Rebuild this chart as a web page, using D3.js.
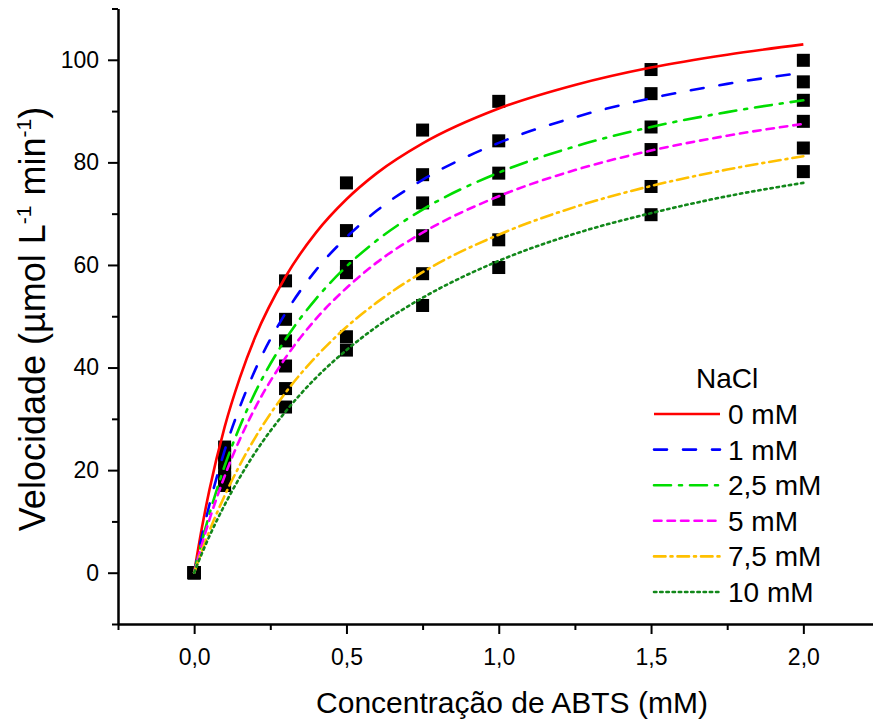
<!DOCTYPE html>
<html>
<head>
<meta charset="utf-8">
<script src="https://cdn.jsdelivr.net/npm/d3@7"></script>
<style>
  body { margin: 0; background: #fff; }
  svg { display: block; font-family: "Liberation Sans", Arial, sans-serif; }
</style>
</head>
<body>
<div id="chart"></div>
<script>
// measured points (ABTS mM -> velocity)
var xPoints = [0, 0.1, 0.3, 0.5, 0.75, 1.0, 1.5, 2.0];
var v0   = [0, 24.5, 56.9, 76.0, 86.3, 91.9, 98.1, 99.9];
var v1   = [0, 23.0, 49.4, 66.7, 77.6, 84.2, 93.4, 95.7];
var v25  = [0, 21.5, 45.2, 59.7, 72.1, 77.9, 86.9, 92.1];
var v5   = [0, 20.0, 40.3, 58.5, 65.7, 72.8, 82.5, 88.0];
var v75  = [0, 18.5, 35.9, 46.0, 58.3, 64.9, 75.3, 82.8];
var v10  = [0, 17.0, 32.3, 43.4, 52.1, 59.5, 69.8, 78.2];

// fitted curves
var xCurve = [0, 0.025, 0.05, 0.1, 0.15, 0.2, 0.3, 0.4, 0.5, 0.6, 0.75, 1.0, 1.25, 1.5, 1.75, 2.0];
var c0  = [0, 8.6, 16.1, 28.4, 38.0, 45.9, 57.7, 66.3, 72.8, 77.9, 83.7, 90.5, 95.1, 98.5, 101.0, 103.0];
var c1  = [0, 7.0, 13.2, 23.8, 32.3, 39.5, 50.6, 59.0, 65.4, 70.6, 76.6, 83.8, 88.8, 92.5, 95.3, 97.5];
var c25 = [0, 6.0, 11.4, 20.8, 28.5, 35.1, 45.5, 53.4, 59.7, 64.8, 70.8, 78.0, 83.1, 86.9, 89.8, 92.1];
var c5  = [0, 5.4, 10.3, 18.8, 26.0, 32.1, 41.9, 49.5, 55.5, 60.5, 66.3, 73.4, 78.5, 82.3, 85.2, 87.5];
var c75 = [0, 4.2, 8.1, 15.0, 21.0, 26.3, 35.1, 42.1, 47.9, 52.7, 58.6, 65.9, 71.3, 75.4, 78.6, 81.2];
var c10 = [0, 3.7, 7.1, 13.2, 18.6, 23.4, 31.4, 38.0, 43.4, 48.0, 53.6, 60.8, 66.1, 70.1, 73.4, 76.0];

var seriesNames = ['0 mM', '1 mM', '2,5 mM', '5 mM', '7,5 mM', '10 mM'];
var pointSets = [v0, v1, v25, v5, v75, v10];
var curveSets = [c0, c1, c25, c5, c75, c10];
var colors = ['#ff0000', '#0000ff', '#00dd00', '#ff00ff', '#ffc000', '#12881a'];
var dashes = [null, '13,16', '17,8,3,8', '7.5,6', '11.5,5,2,5', '2.4,3.8'];
var caps = ['butt', 'round', 'round', 'round', 'round', 'round'];

var xMajor = [0, 0.5, 1.0, 1.5, 2.0];
var xMinor = [-0.25, 0.25, 0.75, 1.25, 1.75];
var yMajor = [0, 20, 40, 60, 80, 100];
var yMinor = [-10, 10, 30, 50, 70, 90, 110];

var width = 873, height = 723;

var svg = d3.select('#chart').append('svg')
    .attr('width', width)
    .attr('height', height);

var x = d3.scaleLinear().domain([-0.25, 2.25]).range([118, 879.5]);
var y = d3.scaleLinear().domain([-10, 110]).range([624, 8.5]);

var comma = d3.formatLocale({ decimal: ',', thousands: '.', grouping: [3], currency: ['', ''] });
var fmtX = comma.format('.1f');

// squares first, lines drawn over them
var pts = svg.append('g').attr('class', 'points');
pointSets.forEach(function (vals) {
    pts.selectAll(null)
        .data(vals)
        .enter().append('rect')
        .attr('x', function (d, i) { return x(xPoints[i]) - 6.5; })
        .attr('y', function (d) { return y(d) - 6.5; })
        .attr('width', 13)
        .attr('height', 13)
        .attr('fill', '#000');
});

var line = d3.line()
    .x(function (d, i) { return x(xCurve[i]); })
    .y(function (d) { return y(d); })
    .curve(d3.curveMonotoneX);

var lines = svg.append('g').attr('class', 'fits');
curveSets.forEach(function (vals, k) {
    lines.append('path')
        .datum(vals)
        .attr('d', line)
        .attr('fill', 'none')
        .attr('stroke', colors[k])
        .attr('stroke-width', 2.6)
        .attr('stroke-linecap', caps[k])
        .attr('stroke-dasharray', dashes[k]);
});

// axes
var xAxis = svg.append('g').attr('transform', 'translate(0,624)');
xAxis.call(d3.axisBottom(x).tickValues(xMajor).tickSize(10).tickSizeOuter(0).tickFormat(fmtX));
var xAxisMinor = svg.append('g').attr('transform', 'translate(0,624)');
xAxisMinor.call(d3.axisBottom(x).tickValues(xMinor).tickSize(6).tickSizeOuter(0).tickFormat(''));

var yAxis = svg.append('g').attr('transform', 'translate(118,0)');
yAxis.call(d3.axisLeft(y).tickValues(yMajor).tickSize(10).tickSizeOuter(0));
var yAxisMinor = svg.append('g').attr('transform', 'translate(118,0)');
yAxisMinor.call(d3.axisLeft(y).tickValues(yMinor).tickSize(6).tickSizeOuter(0).tickFormat(''));

svg.selectAll('.domain, .tick line')
    .attr('stroke', '#000')
    .attr('stroke-width', 2);

xAxis.selectAll('.tick text')
    .attr('font-size', 23)
    .attr('fill', '#000')
    .attr('dy', '0')
    .attr('y', 41);

yAxis.selectAll('.tick text')
    .attr('font-size', 23)
    .attr('fill', '#000')
    .attr('x', -19);

// axis titles
svg.append('text')
    .attr('x', 512)
    .attr('y', 713)
    .attr('text-anchor', 'middle')
    .attr('font-size', 30)
    .text('Concentração de ABTS (mM)');

var yTitle = svg.append('text')
    .attr('transform', 'translate(45,319) rotate(-90)')
    .attr('text-anchor', 'middle')
    .attr('font-size', 36);
yTitle.append('tspan').text('Velocidade (µmol L');
yTitle.append('tspan').attr('font-size', 21).attr('dy', -14).text('-1');
yTitle.append('tspan').attr('dy', 14).text(' min');
yTitle.append('tspan').attr('font-size', 21).attr('dy', -14).text('-1');
yTitle.append('tspan').attr('dy', 14).text(')');

// legend
var legend = svg.append('g').attr('class', 'legend');
legend.append('text')
    .attr('x', 696)
    .attr('y', 388)
    .attr('font-size', 28)
    .text('NaCl');

var rowY = d3.scaleLinear().domain([0, 5]).range([414, 592]);
seriesNames.forEach(function (name, k) {
    var yy = rowY(k);
    legend.append('line')
        .attr('x1', 654)
        .attr('x2', 720)
        .attr('y1', yy)
        .attr('y2', yy)
        .attr('stroke', colors[k])
        .attr('stroke-width', 2.6)
        .attr('stroke-linecap', caps[k])
        .attr('stroke-dasharray', dashes[k]);
    legend.append('text')
        .attr('x', 728)
        .attr('y', yy + 10)
        .attr('font-size', 28)
        .text(name);
});
</script>
</body>
</html>
